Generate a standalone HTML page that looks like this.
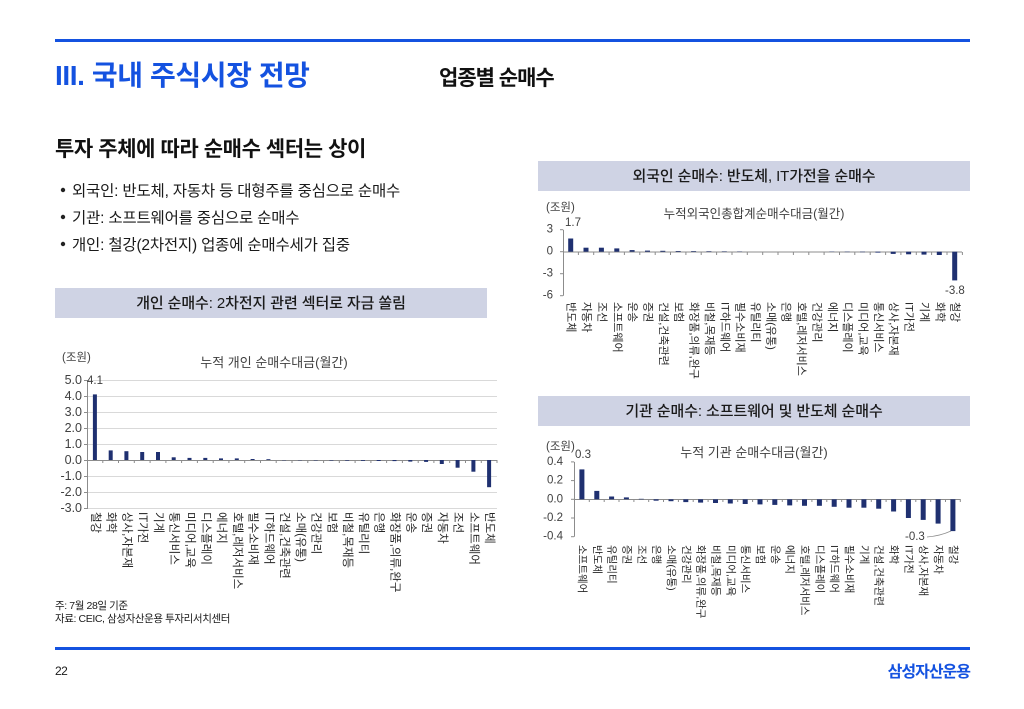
<!DOCTYPE html>
<html><head><meta charset="utf-8"><style>
html,body{margin:0;padding:0;background:#fff;}
svg{display:block;font-family:"Liberation Sans","Noto Sans CJK KR",sans-serif;}
.xl{font-size:11.5px;fill:#262626;dominant-baseline:central;}
.xr{font-size:11px;fill:#262626;dominant-baseline:central;}
.xb{font-size:10.5px;fill:#262626;dominant-baseline:central;}
.yl{font-size:12.5px;fill:#404040;text-anchor:end;dominant-baseline:central;}
.ys{font-size:11.5px;fill:#404040;text-anchor:end;dominant-baseline:central;}
.dl{font-size:11.5px;fill:#404040;dominant-baseline:central;}
</style></head><body>
<svg width="1024" height="709" viewBox="0 0 1024 709" xmlns="http://www.w3.org/2000/svg">
<rect width="1024" height="709" fill="#fff"/>
<!-- header -->
<rect x="55" y="39" width="915" height="3" fill="#1452e0"/>
<text x="55" y="85" font-size="28" font-weight="700" fill="#1452e0" letter-spacing="-0.4">III. 국내 주식시장 전망</text>
<text x="439" y="85" font-size="21" font-weight="700" fill="#111" letter-spacing="-1">업종별 순매수</text>
<text x="55" y="156" font-size="21" font-weight="700" fill="#111" letter-spacing="-0.4">투자 주체에 따라 순매수 섹터는 상이</text>
<circle cx="63" cy="190" r="2.2" fill="#222"/>
<circle cx="63" cy="217" r="2.2" fill="#222"/>
<circle cx="63" cy="244" r="2.2" fill="#222"/>
<text x="72" y="196" font-size="15.5" fill="#1a1a1a" letter-spacing="-0.2">외국인: 반도체, 자동차 등 대형주를 중심으로 순매수</text>
<text x="72" y="223" font-size="15.5" fill="#1a1a1a" letter-spacing="-0.2">기관: 소프트웨어를 중심으로 순매수</text>
<text x="72" y="250" font-size="15.5" fill="#1a1a1a" letter-spacing="-0.2">개인: 철강(2차전지) 업종에 순매수세가 집중</text>

<!-- gray boxes -->
<rect x="55" y="288" width="432" height="30" fill="#cfd3e4"/>
<text x="271" y="308" font-size="15" font-weight="500" fill="#1a1a1a" text-anchor="middle" letter-spacing="-0.1">개인 순매수: 2차전지 관련 섹터로 자금 쏠림</text>
<rect x="538" y="161" width="432" height="30" fill="#cfd3e4"/>
<text x="754" y="181" font-size="15" font-weight="500" fill="#1a1a1a" text-anchor="middle" letter-spacing="-0.1">외국인 순매수: 반도체, IT가전을 순매수</text>
<rect x="538" y="396" width="432" height="30" fill="#cfd3e4"/>
<text x="754" y="416" font-size="15" font-weight="500" fill="#1a1a1a" text-anchor="middle" letter-spacing="-0.1">기관 순매수: 소프트웨어 및 반도체 순매수</text>

<!-- LEFT CHART -->
<text x="62" y="361" font-size="11.5" fill="#404040">(조원)</text>
<text x="274" y="367" font-size="13" fill="#404040" text-anchor="middle">누적 개인 순매수대금(월간)</text>
<g stroke="#d9d9d9" stroke-width="1">
<line x1="87" y1="380.5" x2="497" y2="380.5"/><line x1="87" y1="396.5" x2="497" y2="396.5"/>
<line x1="87" y1="412.5" x2="497" y2="412.5"/><line x1="87" y1="428.5" x2="497" y2="428.5"/>
<line x1="87" y1="444.5" x2="497" y2="444.5"/><line x1="87" y1="476.5" x2="497" y2="476.5"/>
<line x1="87" y1="492.5" x2="497" y2="492.5"/><line x1="87" y1="508.5" x2="497" y2="508.5"/>
</g>
<g stroke="#8c8c8c" stroke-width="1">
<line x1="87.5" y1="380" x2="87.5" y2="509"/>
<line x1="84" y1="380.5" x2="87" y2="380.5"/><line x1="84" y1="396.5" x2="87" y2="396.5"/><line x1="84" y1="412.5" x2="87" y2="412.5"/><line x1="84" y1="428.5" x2="87" y2="428.5"/><line x1="84" y1="444.5" x2="87" y2="444.5"/><line x1="84" y1="460.5" x2="87" y2="460.5"/><line x1="84" y1="476.5" x2="87" y2="476.5"/><line x1="84" y1="492.5" x2="87" y2="492.5"/><line x1="84" y1="508.5" x2="87" y2="508.5"/>
<line x1="87" y1="460.5" x2="497" y2="460.5"/>
<path d="M102.8 460v3M118.5 460v3M134.3 460v3M150.1 460v3M165.9 460v3M181.6 460v3M197.4 460v3M213.2 460v3M228.9 460v3M244.7 460v3M260.5 460v3M276.2 460v3M292 460v3M307.8 460v3M323.6 460v3M339.3 460v3M355.1 460v3M370.9 460v3M386.6 460v3M402.4 460v3M418.2 460v3M433.9 460v3M449.7 460v3M465.5 460v3M481.3 460v3M497 460v3"/>
</g>
<text class="yl" x="82" y="380">5.0</text><text class="yl" x="82" y="396">4.0</text><text class="yl" x="82" y="412">3.0</text><text class="yl" x="82" y="428">2.0</text><text class="yl" x="82" y="444">1.0</text><text class="yl" x="82" y="460">0.0</text><text class="yl" x="82" y="476">-1.0</text><text class="yl" x="82" y="492">-2.0</text><text class="yl" x="82" y="508">-3.0</text>
<text class="dl" x="87" y="381">4.1</text>
<g fill="#1f3070">
<rect x="92.9" y="394.4" width="4" height="65.6"/>
<rect x="108.7" y="450.4" width="4" height="9.6"/>
<rect x="124.4" y="451.2" width="4" height="8.8"/>
<rect x="140.2" y="452" width="4" height="8"/>
<rect x="156" y="452" width="4" height="8"/>
<rect x="171.7" y="457.3" width="4" height="2.7"/>
<rect x="187.5" y="457.9" width="4" height="2.1"/>
<rect x="203.3" y="457.9" width="4" height="2.1"/>
<rect x="219" y="458.4" width="4" height="1.6"/>
<rect x="234.8" y="458.4" width="4" height="1.6"/>
<rect x="250.6" y="459" width="4" height="1"/>
<rect x="266.4" y="459.2" width="4" height="0.8"/>
<rect x="282.1" y="460" width="4" height="0.3"/>
<rect x="297.9" y="460" width="4" height="0.3"/>
<rect x="313.7" y="460" width="4" height="0.4"/>
<rect x="329.4" y="460" width="4" height="0.5"/>
<rect x="345.2" y="460" width="4" height="0.6"/>
<rect x="361" y="460" width="4" height="0.8"/>
<rect x="376.7" y="460" width="4" height="1"/>
<rect x="392.5" y="460" width="4" height="1.1"/>
<rect x="408.3" y="460" width="4" height="1.6"/>
<rect x="424.1" y="460" width="4" height="1.9"/>
<rect x="439.8" y="460" width="4" height="4"/>
<rect x="455.6" y="460" width="4" height="7.7"/>
<rect x="471.4" y="460" width="4" height="11.7"/>
<rect x="487.1" y="460" width="4" height="27.2"/>
</g>
<g class="xl">
<text transform="translate(94.9,512) rotate(90)">철강</text>
<text transform="translate(110.7,512) rotate(90)">화학</text>
<text transform="translate(126.4,512) rotate(90)">상사,자본재</text>
<text transform="translate(142.2,512) rotate(90)">IT가전</text>
<text transform="translate(158,512) rotate(90)">기계</text>
<text transform="translate(173.7,512) rotate(90)">통신서비스</text>
<text transform="translate(189.5,512) rotate(90)">미디어,교육</text>
<text transform="translate(205.3,512) rotate(90)">디스플레이</text>
<text transform="translate(221,512) rotate(90)">에너지</text>
<text transform="translate(236.8,512) rotate(90)">호텔,레저서비스</text>
<text transform="translate(252.6,512) rotate(90)">필수소비재</text>
<text transform="translate(268.4,512) rotate(90)">IT하드웨어</text>
<text transform="translate(284.1,512) rotate(90)">건설,건축관련</text>
<text transform="translate(299.9,512) rotate(90)">소매(유통)</text>
<text transform="translate(315.7,512) rotate(90)">건강관리</text>
<text transform="translate(331.4,512) rotate(90)">보험</text>
<text transform="translate(347.2,512) rotate(90)">비철,목재등</text>
<text transform="translate(363,512) rotate(90)">유틸리티</text>
<text transform="translate(378.7,512) rotate(90)">은행</text>
<text transform="translate(394.5,512) rotate(90)">화장품,의류,완구</text>
<text transform="translate(410.3,512) rotate(90)">운송</text>
<text transform="translate(426.1,512) rotate(90)">증권</text>
<text transform="translate(441.8,512) rotate(90)">자동차</text>
<text transform="translate(457.6,512) rotate(90)">조선</text>
<text transform="translate(473.4,512) rotate(90)">소프트웨어</text>
<text transform="translate(489.1,512) rotate(90)">반도체</text>
</g>

<!-- RIGHT TOP CHART -->
<text x="546" y="211" font-size="11.5" fill="#404040">(조원)</text>
<text x="754" y="218" font-size="12.5" fill="#404040" text-anchor="middle">누적외국인총합계순매수대금(월간)</text>
<g stroke="#8c8c8c" stroke-width="1">
<line x1="563.5" y1="229.7" x2="563.5" y2="295.7"/>
<line x1="560" y1="229.7" x2="563" y2="229.7"/><line x1="560" y1="251.7" x2="563" y2="251.7"/><line x1="560" y1="273.7" x2="563" y2="273.7"/><line x1="560" y1="295.7" x2="563" y2="295.7"/>
<line x1="563" y1="252" x2="962" y2="252"/>
<path d="M578.4 252v3M593.7 252v3M609.1 252v3M624.4 252v3M639.8 252v3M655.2 252v3M670.5 252v3M685.9 252v3M701.2 252v3M716.6 252v3M732 252v3M747.3 252v3M762.7 252v3M778 252v3M793.4 252v3M808.8 252v3M824.1 252v3M839.5 252v3M854.8 252v3M870.2 252v3M885.6 252v3M900.9 252v3M916.3 252v3M931.6 252v3M947 252v3M962.4 252v3"/>
</g>
<text class="ys" x="553" y="229.7">3</text><text class="ys" x="553" y="251.7">0</text><text class="ys" x="553" y="273.7">-3</text><text class="ys" x="553" y="295.7">-6</text>
<text class="dl" x="565" y="223">1.7</text>
<text class="dl" x="945" y="291">-3.8</text>
<g fill="#1f3070">
<rect x="568.2" y="238.5" width="5" height="13.2"/>
<rect x="583.5" y="247.7" width="5" height="4"/>
<rect x="598.9" y="247.7" width="5" height="4"/>
<rect x="614.3" y="248.4" width="5" height="3.3"/>
<rect x="629.6" y="250.1" width="5" height="1.6"/>
<rect x="645" y="250.6" width="5" height="1.1"/>
<rect x="660.3" y="250.8" width="5" height="0.9"/>
<rect x="675.7" y="251" width="5" height="0.7"/>
<rect x="691.1" y="251.1" width="5" height="0.6"/>
<rect x="706.4" y="251.2" width="5" height="0.5"/>
<rect x="721.8" y="251.3" width="5" height="0.4"/>
<rect x="737.1" y="251.4" width="5" height="0.3"/>
<rect x="829.3" y="251.7" width="5" height="0.3"/>
<rect x="844.7" y="251.7" width="5" height="0.4"/>
<rect x="860" y="251.7" width="5" height="0.5"/>
<rect x="875.4" y="251.7" width="5" height="0.9"/>
<rect x="890.7" y="251.7" width="5" height="2.2"/>
<rect x="906.1" y="251.7" width="5" height="2.6"/>
<rect x="921.5" y="251.7" width="5" height="2.9"/>
<rect x="936.8" y="251.7" width="5" height="3.3"/>
<rect x="952.2" y="251.7" width="5" height="28.7"/>
</g>
<g class="xr">
<text transform="translate(570.7,302) rotate(90)">반도체</text>
<text transform="translate(586,302) rotate(90)">자동차</text>
<text transform="translate(601.4,302) rotate(90)">조선</text>
<text transform="translate(616.8,302) rotate(90)">소프트웨어</text>
<text transform="translate(632.1,302) rotate(90)">운송</text>
<text transform="translate(647.5,302) rotate(90)">증권</text>
<text transform="translate(662.8,302) rotate(90)">건설,건축관련</text>
<text transform="translate(678.2,302) rotate(90)">보험</text>
<text transform="translate(693.6,302) rotate(90)">화장품,의류,완구</text>
<text transform="translate(708.9,302) rotate(90)">비철,목재등</text>
<text transform="translate(724.3,302) rotate(90)">IT하드웨어</text>
<text transform="translate(739.6,302) rotate(90)">필수소비재</text>
<text transform="translate(755,302) rotate(90)">유틸리티</text>
<text transform="translate(770.4,302) rotate(90)">소매(유통)</text>
<text transform="translate(785.7,302) rotate(90)">은행</text>
<text transform="translate(801.1,302) rotate(90)">호텔,레저서비스</text>
<text transform="translate(816.4,302) rotate(90)">건강관리</text>
<text transform="translate(831.8,302) rotate(90)">에너지</text>
<text transform="translate(847.2,302) rotate(90)">디스플레이</text>
<text transform="translate(862.5,302) rotate(90)">미디어,교육</text>
<text transform="translate(877.9,302) rotate(90)">통신서비스</text>
<text transform="translate(893.2,302) rotate(90)">상사,자본재</text>
<text transform="translate(908.6,302) rotate(90)">IT가전</text>
<text transform="translate(924,302) rotate(90)">기계</text>
<text transform="translate(939.3,302) rotate(90)">화학</text>
<text transform="translate(954.7,302) rotate(90)">철강</text>
</g>

<!-- RIGHT BOTTOM CHART -->
<text x="546" y="450" font-size="11.5" fill="#404040">(조원)</text>
<text x="754" y="457" font-size="13" fill="#404040" text-anchor="middle">누적 기관 순매수대금(월간)</text>
<g stroke="#8c8c8c" stroke-width="1">
<line x1="574.5" y1="461.9" x2="574.5" y2="536.7"/>
<line x1="571" y1="461.9" x2="574" y2="461.9"/><line x1="571" y1="480.6" x2="574" y2="480.6"/><line x1="571" y1="499.3" x2="574" y2="499.3"/><line x1="571" y1="518" x2="574" y2="518"/><line x1="571" y1="536.7" x2="574" y2="536.7"/>
<line x1="574" y1="499.5" x2="960" y2="499.5"/>
<path d="M589.3 499v3M604.2 499v3M619 499v3M633.9 499v3M648.7 499v3M663.5 499v3M678.4 499v3M693.2 499v3M708.1 499v3M722.9 499v3M737.7 499v3M752.6 499v3M767.4 499v3M782.3 499v3M797.1 499v3M811.9 499v3M826.8 499v3M841.6 499v3M856.5 499v3M871.3 499v3M886.1 499v3M901 499v3M915.8 499v3M930.7 499v3M945.5 499v3M960.3 499v3"/>
</g>
<text class="ys" x="563" y="461.9">0.4</text><text class="ys" x="563" y="480.6">0.2</text><text class="ys" x="563" y="499.3">0.0</text><text class="ys" x="563" y="518">-0.2</text><text class="ys" x="563" y="536.7">-0.4</text>
<text class="dl" x="575" y="455">0.3</text>
<text class="dl" x="905" y="537">-0.3</text>
<path d="M927 537 Q940 536 951 531" stroke="#8c8c8c" fill="none" stroke-width="0.8"/>
<g fill="#1f3070">
<rect x="579.4" y="469.4" width="5" height="29.9"/>
<rect x="594.3" y="490.9" width="5" height="8.4"/>
<rect x="609.1" y="496.5" width="5" height="2.8"/>
<rect x="623.9" y="497.4" width="5" height="1.9"/>
<rect x="638.8" y="498.8" width="5" height="0.5"/>
<rect x="653.6" y="499.3" width="5" height="1.4"/>
<rect x="668.5" y="499.3" width="5" height="1.9"/>
<rect x="683.3" y="499.3" width="5" height="2.8"/>
<rect x="698.1" y="499.3" width="5" height="3.3"/>
<rect x="713" y="499.3" width="5" height="3.7"/>
<rect x="727.8" y="499.3" width="5" height="4.2"/>
<rect x="742.7" y="499.3" width="5" height="4.7"/>
<rect x="757.5" y="499.3" width="5" height="5.1"/>
<rect x="772.3" y="499.3" width="5" height="5.6"/>
<rect x="787.2" y="499.3" width="5" height="6.1"/>
<rect x="802" y="499.3" width="5" height="6.5"/>
<rect x="816.9" y="499.3" width="5" height="6.5"/>
<rect x="831.7" y="499.3" width="5" height="7.5"/>
<rect x="846.5" y="499.3" width="5" height="8.4"/>
<rect x="861.4" y="499.3" width="5" height="8.4"/>
<rect x="876.2" y="499.3" width="5" height="9.4"/>
<rect x="891.1" y="499.3" width="5" height="12.2"/>
<rect x="905.9" y="499.3" width="5" height="18.7"/>
<rect x="920.7" y="499.3" width="5" height="20.6"/>
<rect x="935.6" y="499.3" width="5" height="24.3"/>
<rect x="950.4" y="499.3" width="5" height="31.8"/>
</g>
<g class="xb">
<text transform="translate(581.9,545) rotate(90)">소프트웨어</text>
<text transform="translate(596.8,545) rotate(90)">반도체</text>
<text transform="translate(611.6,545) rotate(90)">유틸리티</text>
<text transform="translate(626.4,545) rotate(90)">증권</text>
<text transform="translate(641.3,545) rotate(90)">조선</text>
<text transform="translate(656.1,545) rotate(90)">은행</text>
<text transform="translate(671,545) rotate(90)">소매(유통)</text>
<text transform="translate(685.8,545) rotate(90)">건강관리</text>
<text transform="translate(700.6,545) rotate(90)">화장품,의류,완구</text>
<text transform="translate(715.5,545) rotate(90)">비철,목재등</text>
<text transform="translate(730.3,545) rotate(90)">미디어,교육</text>
<text transform="translate(745.2,545) rotate(90)">통신서비스</text>
<text transform="translate(760,545) rotate(90)">보험</text>
<text transform="translate(774.8,545) rotate(90)">운송</text>
<text transform="translate(789.7,545) rotate(90)">에너지</text>
<text transform="translate(804.5,545) rotate(90)">호텔,레저서비스</text>
<text transform="translate(819.4,545) rotate(90)">디스플레이</text>
<text transform="translate(834.2,545) rotate(90)">IT하드웨어</text>
<text transform="translate(849,545) rotate(90)">필수소비재</text>
<text transform="translate(863.9,545) rotate(90)">기계</text>
<text transform="translate(878.7,545) rotate(90)">건설,건축관련</text>
<text transform="translate(893.6,545) rotate(90)">화학</text>
<text transform="translate(908.4,545) rotate(90)">IT가전</text>
<text transform="translate(923.2,545) rotate(90)">상사,자본재</text>
<text transform="translate(938.1,545) rotate(90)">자동차</text>
<text transform="translate(952.9,545) rotate(90)">철강</text>
</g>

<!-- notes & footer -->
<text x="55" y="609" font-size="10.5" fill="#1a1a1a" letter-spacing="-0.4">주: 7월 28일 기준</text>
<text x="55" y="622" font-size="10.5" fill="#1a1a1a" letter-spacing="-0.4">자료: CEIC, 삼성자산운용 투자리서치센터</text>
<rect x="55" y="647" width="915" height="3" fill="#1452e0"/>
<text x="55" y="675" font-size="12" fill="#1a1a1a" letter-spacing="-0.5">22</text>
<text x="970" y="677" font-size="16" font-weight="700" fill="#1452e0" text-anchor="end" letter-spacing="-1">삼성자산운용</text>
</svg>
</body></html>
